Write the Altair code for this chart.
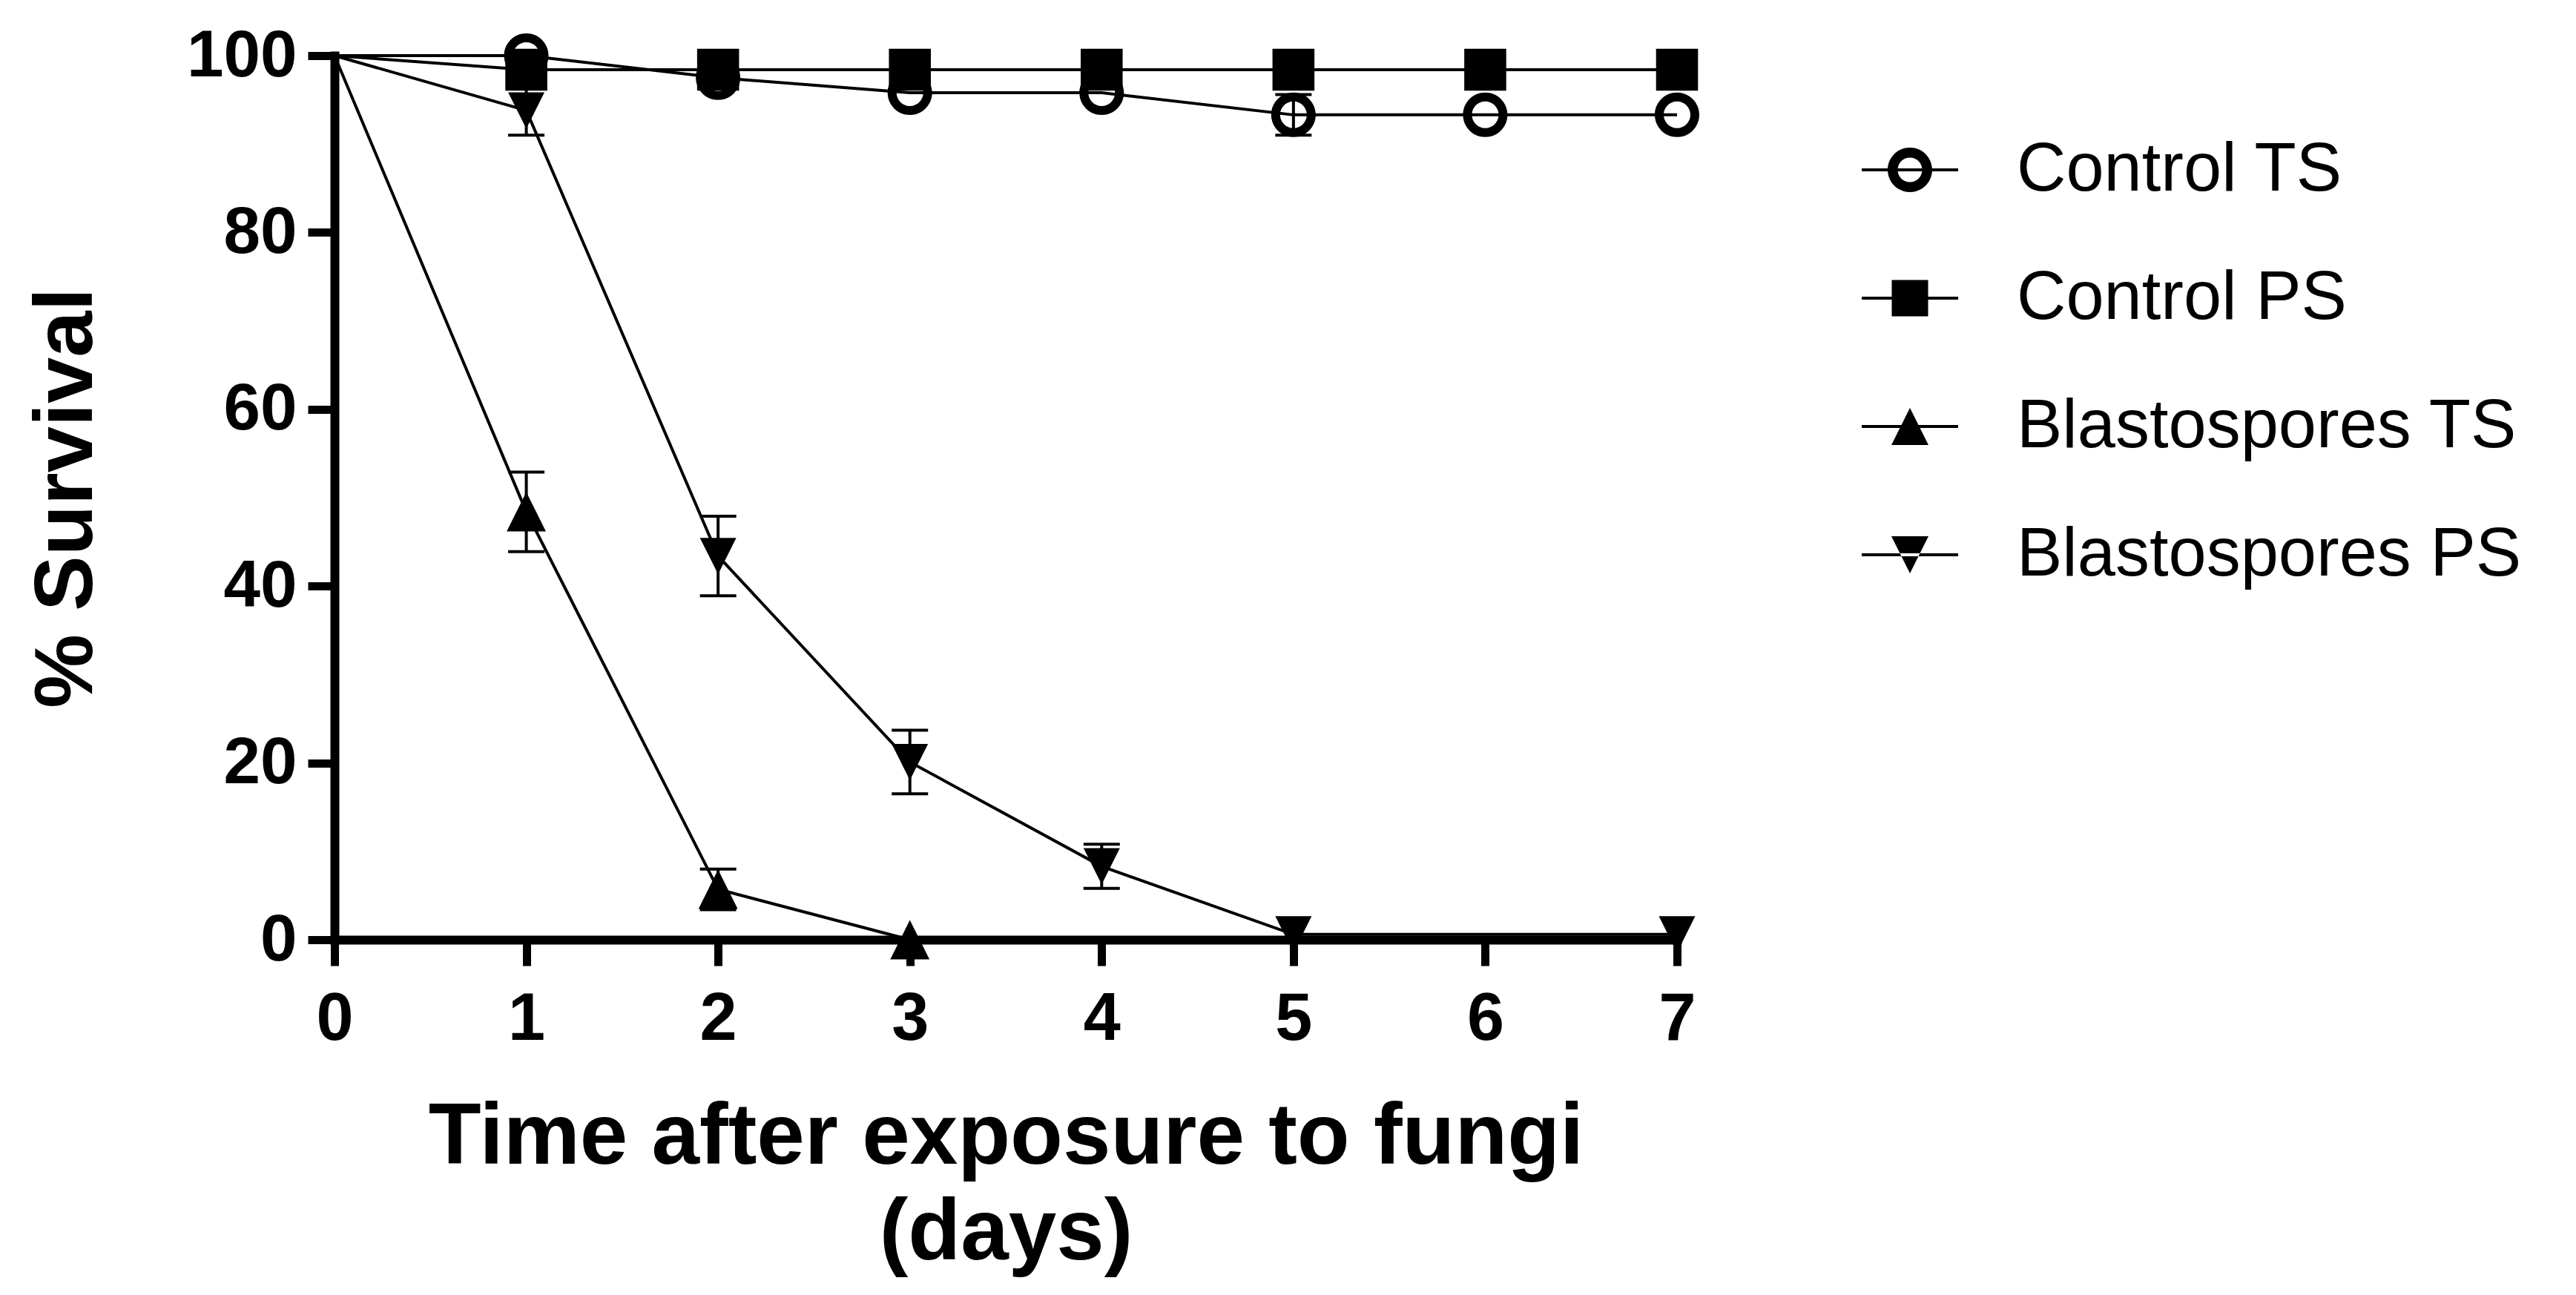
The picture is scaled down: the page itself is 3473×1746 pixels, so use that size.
import altair as alt
import pandas as pd

series_names = ["Control TS", "Control PS", "Blastospores TS", "Blastospores PS"]

control_ts_days = [0, 1, 2, 3, 4, 5, 6, 7]
control_ts = [100, 100, 97.5, 95.8, 95.8, 93.3, 93.3, 93.3]
control_ts_err = [0, 0, 0, 0, 0, 2.3, 0, 0]

control_ps_days = [0, 1, 2, 3, 4, 5, 6, 7]
control_ps = [100, 98.4, 98.4, 98.4, 98.4, 98.4, 98.4, 98.4]
control_ps_err = [0, 0, 0, 0, 0, 0, 0, 0]

blasto_ts_days = [0, 1, 2, 3]
blasto_ts = [100, 48.4, 5.7, 0]
blasto_ts_err = [0, 4.5, 2.3, 0]

blasto_ps_days = [0, 1, 2, 3, 4, 5, 7]
blasto_ps = [100, 93.8, 43.4, 20.1, 8.3, 0.6, 0.6]
blasto_ps_err = [0, 2.8, 4.5, 3.6, 2.5, 0, 0]

x_ticks = [0, 1, 2, 3, 4, 5, 6, 7]
y_ticks = [0, 20, 40, 60, 80, 100]

rows = []
for name, ds, vs, es in [
    ("Control TS", control_ts_days, control_ts, control_ts_err),
    ("Control PS", control_ps_days, control_ps, control_ps_err),
    ("Blastospores TS", blasto_ts_days, blasto_ts, blasto_ts_err),
    ("Blastospores PS", blasto_ps_days, blasto_ps, blasto_ps_err),
]:
    for d, v, e in zip(ds, vs, es):
        rows.append({"series": name, "day": d, "value": v, "err": e,
                     "lo": v - e, "hi": v + e})
df = pd.DataFrame(rows)
df_pts = df[df["day"] > 0]
df_err = df[df["err"] > 0]

FONT = "Liberation Sans"

ring = "M1,0A1,1,0,1,1,-1,0A1,1,0,1,1,1,0Z M0.6,0A0.6,0.6,0,1,0,-0.6,0A0.6,0.6,0,1,0,0.6,0Z"
tri_up = "M0,-1L1,1L-1,1Z"
tri_down = "M0,1L1,-1L-1,-1Z"
marker_shapes = [ring, "square", tri_up, tri_down]
marker_sizes = [3600, 2401, 2401, 2401]

# legend glyphs: marker plus a short horizontal line (drawn as a thin filled bar)
line_bar = " M-2.6,-0.08H2.6V0.08H-2.6Z"
legend_shapes = [
    "M1.2,0A1.2,1.2,0,1,1,-1.2,0A1.2,1.2,0,1,1,1.2,0Z M0.66,0A0.66,0.66,0,1,0,-0.66,0A0.66,0.66,0,1,0,0.66,0Z" + line_bar,
    "M-0.98,-0.98H0.98V0.98H-0.98Z" + line_bar,
    "M0,-1L1,1L-1,1Z" + line_bar,
    "M0,1L1,-1L-1,-1Z" + line_bar,
]

x_enc = alt.X(
    "day:Q",
    scale=alt.Scale(domain=[0, 7], nice=False, zero=False),
    axis=alt.Axis(
        values=x_ticks, format="d", grid=False,
        domainColor="black", domainWidth=12, domainCap="square",
        tickColor="black", tickWidth=11, tickSize=35,
        labelFont=FONT, labelFontWeight="bold", labelFontSize=90,
        labelColor="black", labelPadding=28, labelFlush=False, labelOverlap=False,
        title=["Time after exposure to fungi", "(days)"],
        titleFont=FONT, titleFontWeight="bold", titleFontSize=116,
        titleColor="black", titleX=905, titleY=301, titleAlign="center",
        titleBaseline="alphabetic", titleLineHeight=129,
    ),
)
y_enc = alt.Y(
    "value:Q",
    scale=alt.Scale(domain=[0, 100], nice=False),
    axis=alt.Axis(
        values=y_ticks, grid=False,
        domainColor="black", domainWidth=12, domainCap="square",
        tickColor="black", tickWidth=11, tickSize=36,
        labelFont=FONT, labelFontWeight="bold", labelFontSize=89,
        labelColor="black", labelPadding=15, labelFlush=False, labelOverlap=False,
        title="% Survival",
        titleFont=FONT, titleFontWeight="bold", titleFontSize=112,
        titleColor="black", titleX=-328, titleY=596, titleAngle=270,
        titleAlign="center", titleBaseline="alphabetic",
    ),
)

lines = alt.Chart(df).mark_line(color="black", strokeWidth=4).encode(
    x=x_enc, y=y_enc, detail="series:N", order="day:Q"
)

err_rule = alt.Chart(df_err).mark_rule(color="black", strokeWidth=4).encode(
    x="day:Q", y="lo:Q", y2="hi:Q"
)
cap_hi = alt.Chart(df_err).mark_tick(color="black", orient="horizontal", size=49,
                                     thickness=4, opacity=1).encode(x="day:Q", y="hi:Q")
cap_lo = alt.Chart(df_err).mark_tick(color="black", orient="horizontal", size=49,
                                     thickness=4, opacity=1).encode(x="day:Q", y="lo:Q")

points = alt.Chart(df_pts).mark_point(filled=True, color="black", opacity=1,
                                      strokeWidth=0).encode(
    x="day:Q", y="value:Q",
    shape=alt.Shape("series:N", scale=alt.Scale(domain=series_names, range=marker_shapes),
                    legend=None),
    size=alt.Size("series:N", scale=alt.Scale(domain=series_names, range=marker_sizes),
                  legend=None),
)

legend_layer = alt.Chart(df).transform_filter("false").mark_point(
    filled=True, color="black", opacity=1
).encode(
    x="day:Q", y="value:Q",
    shape=alt.Shape(
        "series:N",
        scale=alt.Scale(domain=series_names, range=legend_shapes),
        sort=series_names,
        legend=alt.Legend(
            title=None, orient="none", legendX=2078, legendY=108,
            symbolSize=2500, symbolFillColor="black", symbolOpacity=1,
            symbolStrokeWidth=0,
            labelFont=FONT, labelFontSize=92, labelColor="black",
            labelOffset=98, labelLimit=3000, rowPadding=81, padding=0,
        ),
    ),
)

chart = alt.layer(lines, err_rule, cap_hi, cap_lo, points, legend_layer).resolve_scale(
    shape="independent", size="independent"
).properties(
    width=1810, height=1192,
    autosize=alt.AutoSizeParams(type="none"),
    padding={"left": 443, "top": 67, "right": 1200, "bottom": 470},
    background="white",
).configure_view(stroke=None)

chart.save("out.html", embed_options={"renderer": "svg", "actions": False})
